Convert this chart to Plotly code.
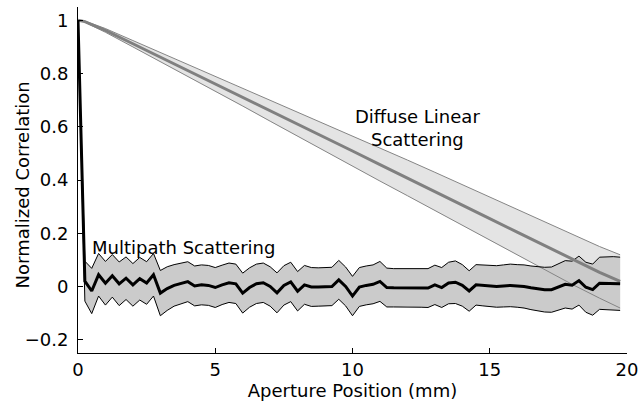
import plotly.graph_objects as go

# Aperture positions (mm) for the multipath correlation curve (0.25 mm steps)
x_multi = [i * 0.25 for i in range(80)]

# Mean normalized correlation, multipath scattering
multi_mean = [
    1.000, 0.020, -0.017, 0.044, 0.012, 0.040, 0.010, 0.031, 0.006, 0.029,
    0.013, 0.044, -0.025, -0.008, 0.004, 0.012, 0.018, 0.002, 0.006, 0.004,
    -0.004, 0.006, 0.014, 0.010, -0.025, -0.004, 0.010, 0.014, 0.000, -0.024,
    0.004, 0.017, -0.018, 0.006, -0.002, -0.002, -0.002, 0.000, 0.025, 0.000,
    -0.036, -0.002, 0.004, 0.008, 0.019, -0.004, -0.005, -0.005, -0.004, -0.004,
    -0.006, -0.006, 0.006, -0.004, 0.013, 0.016, 0.004, -0.017, 0.006, 0.004,
    0.002, 0.000, 0.002, 0.004, 0.002, 0.000, -0.005, -0.008, -0.012, -0.012,
    -0.002, 0.008, 0.005, 0.022, -0.003, -0.012, 0.012, 0.012, 0.012, 0.010,
]

# Standard deviation of the multipath correlation
multi_std = [
    0.000, 0.075, 0.085, 0.080, 0.082, 0.080, 0.082, 0.080, 0.080, 0.080,
    0.080, 0.080, 0.085, 0.082, 0.078, 0.076, 0.075, 0.075, 0.075, 0.075,
    0.075, 0.074, 0.074, 0.074, 0.075, 0.074, 0.074, 0.074, 0.074, 0.075,
    0.074, 0.074, 0.074, 0.073, 0.073, 0.072, 0.072, 0.072, 0.073, 0.073,
    0.074, 0.073, 0.073, 0.073, 0.075, 0.073, 0.072, 0.072, 0.072, 0.072,
    0.072, 0.073, 0.074, 0.075, 0.078, 0.080, 0.078, 0.076, 0.076, 0.077,
    0.078, 0.078, 0.079, 0.080, 0.080, 0.081, 0.082, 0.083, 0.084, 0.085,
    0.087, 0.089, 0.090, 0.092, 0.094, 0.096, 0.098, 0.100, 0.100, 0.100,
]

# Aperture positions (mm) for the diffuse linear scattering curve
x_diffuse = [0, 0.25, 0.5, 1, 2, 3, 4, 5, 6, 7, 8, 9, 10,
             11, 12, 13, 14, 15, 16, 17, 18, 19, 19.75]

# Mean normalized correlation, diffuse linear scattering
diffuse_mean = [1.000, 0.995, 0.984, 0.962, 0.912, 0.862, 0.812, 0.762,
                0.712, 0.661, 0.610, 0.560, 0.509, 0.458, 0.408, 0.357,
                0.306, 0.255, 0.204, 0.153, 0.102, 0.053, 0.019]

# Standard deviation, diffuse linear scattering
diffuse_std = [0.000, 0.002, 0.004, 0.007, 0.012, 0.017, 0.022, 0.028,
               0.034, 0.040, 0.046, 0.052, 0.057, 0.062, 0.067, 0.072,
               0.077, 0.082, 0.086, 0.090, 0.094, 0.097, 0.100]

x_ticks = [0, 5, 10, 15, 20]
y_ticks = [-0.2, 0, 0.2, 0.4, 0.6, 0.8, 1]

FONT = "DejaVu Sans"


def band(x, mean, std):
    upper = [m + s for m, s in zip(mean, std)]
    lower = [m - s for m, s in zip(mean, std)]
    return upper, lower


d_up, d_lo = band(x_diffuse, diffuse_mean, diffuse_std)
m_up, m_lo = band(x_multi, multi_mean, multi_std)

fig = go.Figure()

# shaded bands
fig.add_trace(go.Scatter(
    x=x_diffuse + x_diffuse[::-1], y=d_up + d_lo[::-1],
    fill="toself", fillcolor="#e4e4e4", line=dict(width=0),
    mode="lines", hoverinfo="skip", showlegend=False))
fig.add_trace(go.Scatter(
    x=x_multi + x_multi[::-1], y=m_up + m_lo[::-1],
    fill="toself", fillcolor="#cbcbcb", line=dict(width=0),
    mode="lines", hoverinfo="skip", showlegend=False))

# band edges
for yy in (d_up, d_lo):
    fig.add_trace(go.Scatter(x=x_diffuse, y=yy, mode="lines",
                             line=dict(color="#858585", width=1),
                             hoverinfo="skip", showlegend=False))
for yy in (m_up, m_lo):
    fig.add_trace(go.Scatter(x=x_multi, y=yy, mode="lines",
                             line=dict(color="#000000", width=1),
                             hoverinfo="skip", showlegend=False))

# mean curves
fig.add_trace(go.Scatter(x=x_diffuse, y=diffuse_mean, mode="lines",
                         line=dict(color="#808080", width=3),
                         name="Diffuse Linear Scattering", showlegend=False))
fig.add_trace(go.Scatter(x=x_multi, y=multi_mean, mode="lines",
                         line=dict(color="#000000", width=3),
                         name="Multipath Scattering", showlegend=False))

fig.add_annotation(x=12.37, y=0.596, xref="x", yref="y",
                   text="Diffuse Linear<br>Scattering", showarrow=False,
                   font=dict(family=FONT, size=18, color="black"),
                   xanchor="center", yanchor="middle", align="center")
fig.add_annotation(x=3.86, y=0.147, xref="x", yref="y",
                   text="Multipath Scattering", showarrow=False,
                   font=dict(family=FONT, size=18, color="black"),
                   xanchor="center", yanchor="middle")
fig.add_annotation(x=-0.101, y=0.486, xref="paper", yref="paper",
                   text="Normalized Correlation", textangle=-90,
                   showarrow=False,
                   font=dict(family=FONT, size=18, color="black"),
                   xanchor="center", yanchor="middle")

axis_common = dict(
    showline=True, linecolor="black", linewidth=1, mirror=False,
    ticks="inside", ticklen=5, tickwidth=1, tickcolor="black",
    showgrid=False, zeroline=False,
    tickfont=dict(family=FONT, size=18, color="black"),
)

fig.update_xaxes(range=[0, 20], tickvals=x_ticks, **axis_common,
                 title=dict(text="Aperture Position (mm)",
                            font=dict(family=FONT, size=18, color="black"),
                            standoff=4))
fig.update_yaxes(range=[-0.25, 1.05], tickvals=y_ticks, ticklabelstandoff=5,
                 **axis_common)

fig.update_layout(
    width=640, height=410,
    margin=dict(l=78, r=13, t=7, b=57, autoexpand=False),
    paper_bgcolor="white", plot_bgcolor="white",
    font=dict(family=FONT, size=18, color="black"),
)

fig.write_html("out.html")
